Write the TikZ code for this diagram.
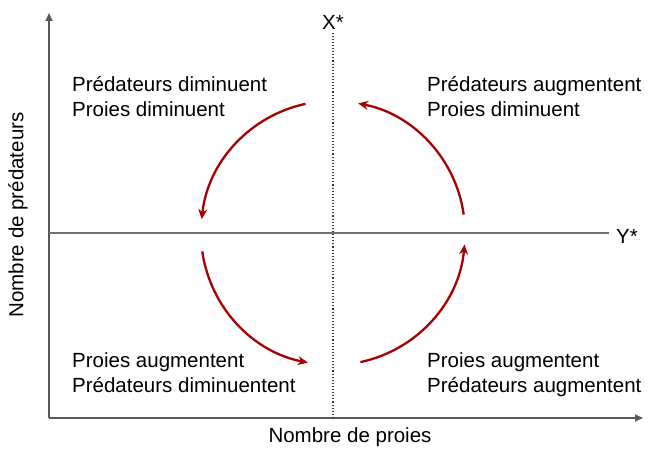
\documentclass[tikz,border=0pt]{standalone}
\usepackage{fontspec}
\setmainfont{Liberation Sans}
\usetikzlibrary{arrows.meta}

\begin{document}
\begin{tikzpicture}[
    x=1pt, y=1pt,
    axis/.style={
        draw,
        line width=1.8pt,
        color=black!65,
        -{Triangle[length=8pt,width=7pt]}
    },
    guide/.style={
        draw,
        line width=1.1pt,
        color=black!55
    },
    cycle/.style={
        draw,
        line width=2.3pt,
        color=red!65!black,
        -{Stealth[length=10pt,width=9pt]}
    },
    label/.style={
        font=\fontsize{20.5}{25}\selectfont,
        inner sep=0pt,
        align=left,
        anchor=base west
    }
]
    \useasboundingbox (0,0) rectangle (656,454);

    % Axes
    \coordinate (O) at (49,36);
    \coordinate (ytop) at (49,441);
    \coordinate (xend) at (643,36);
    \path [axis] (O) -- (ytop);
    \path [axis] (O) -- (xend);

    % Equilibrium lines
    \coordinate (C) at (333,221);
    \node [font=\fontsize{20.5}{25}\selectfont] (xstar) at (333,432) {X*};
    \node [font=\fontsize{20.5}{25}\selectfont] (ystar) at (627,218) {Y*};
    \coordinate (xbot) at (333,36);
    \coordinate (yleft) at (49,221);
    \coordinate (yright) at (609,221);
    \path [guide, dotted, line width=1.4pt, color=black!80] (xstar.south) -- (xbot);
    \path [guide] (yleft) -- (yright);

    % Cycle
    \path [cycle] (C) ++(102:132) arc [start angle=102, end angle=174, radius=132];
    \path [cycle] (C) ++(8:132) arc [start angle=8, end angle=79, radius=132];
    \path [cycle] (C) ++(188:132) arc [start angle=188, end angle=259, radius=132];
    \path [cycle] (C) ++(282:132) arc [start angle=282, end angle=355, radius=132];

    % Quadrant labels (anchored on the last line)
    \node [label] (tl) at (72,337) {Prédateurs diminuent\\Proies diminuent};
    \node [label] (tr) at (427,337) {Prédateurs augmentent\\Proies diminuent};
    \node [label] (bl) at (72,61) {Proies augmentent\\Prédateurs diminuentent};
    \node [label] (br) at (427,61) {Proies augmentent\\Prédateurs augmentent};

    % Axis titles
    \node [font=\fontsize{20.5}{25}\selectfont] (xtitle) at (350,17) {Nombre de proies};
    \node [font=\fontsize{20.5}{25}\selectfont, rotate=90] (ytitle) at (18,239) {Nombre de prédateurs};

\end{tikzpicture}
\end{document}
